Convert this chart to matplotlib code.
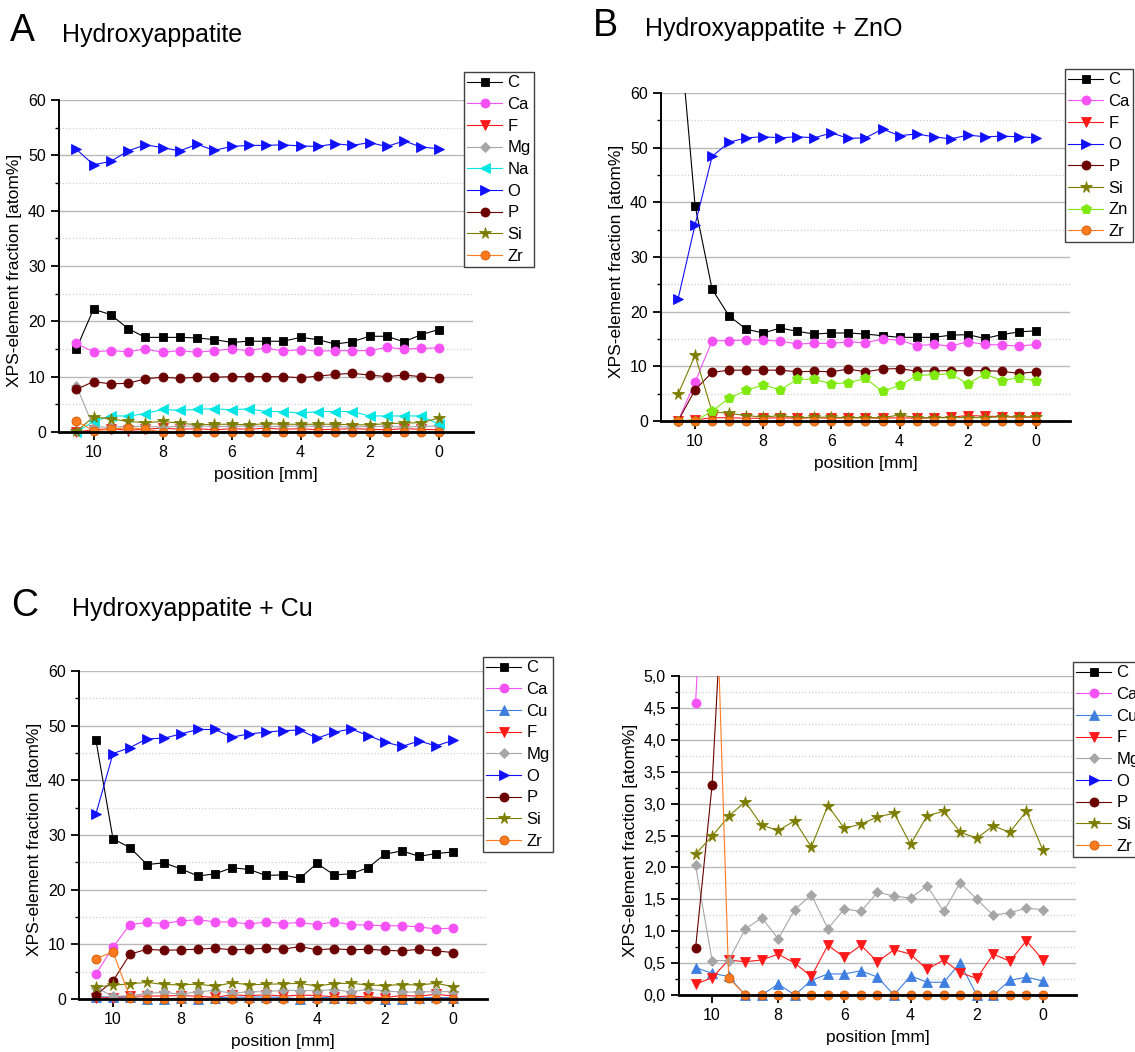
import numpy as np
import matplotlib
matplotlib.use('Agg')
from matplotlib import pyplot as plt
from matplotlib.ticker import MultipleLocator, FuncFormatter

plt.rcParams['font.family'] = ['Liberation Sans', 'DejaVu Sans']

W, H = 1135, 1052

# measurement positions [mm]
pos = [10.5, 10, 9.5, 9, 8.5, 8, 7.5, 7, 6.5, 6, 5.5, 5, 4.5, 4, 3.5, 3, 2.5, 2, 1.5, 1, 0.5, 0]

# A: Hydroxyappatite
a_C = [15.0, 22.2, 21.2, 18.7, 17.1, 17.1, 17.1, 17.0, 16.7, 16.2, 16.4, 16.4, 16.4, 17.1, 16.7, 15.9, 16.3, 17.3, 17.3, 16.3, 17.6, 18.5]
a_Ca = [16.0, 14.5, 14.7, 14.5, 15.0, 14.4, 14.7, 14.4, 14.7, 15.0, 14.7, 15.2, 14.6, 14.9, 14.6, 14.7, 14.7, 14.7, 15.3, 15.0, 15.1, 15.2]
a_F = [0.0, 0.4, 0.6, 0.3, 0.5, 0.7, 0.5, 0.6, 0.4, 0.6, 0.5, 0.7, 0.5, 0.6, 0.4, 0.5, 0.6, 0.5, 0.4, 0.6, 0.5, 0.4]
a_Mg = [8.4, 0.9, 0.9, 1.0, 1.0, 0.9, 1.0, 1.1, 1.0, 1.0, 1.1, 1.0, 1.0, 1.1, 1.0, 1.0, 0.9, 1.0, 1.0, 0.9, 1.0, 1.1]
a_Na = [0.0, 1.9, 2.9, 2.9, 3.3, 4.1, 3.9, 4.1, 4.2, 4.0, 4.2, 3.7, 3.7, 3.4, 3.7, 3.7, 3.7, 2.9, 2.9, 2.9, 2.9, 1.4]
a_O = [51.1, 48.3, 48.9, 50.8, 51.9, 51.4, 50.8, 52.0, 50.9, 51.6, 51.8, 51.8, 51.9, 51.7, 51.6, 52.1, 51.8, 52.3, 51.6, 52.6, 51.5, 51.2]
a_P = [7.7, 9.1, 8.7, 8.8, 9.6, 9.9, 9.7, 9.9, 9.9, 10.0, 10.0, 10.0, 10.0, 9.8, 10.1, 10.4, 10.6, 10.3, 10.0, 10.3, 10.0, 9.7]
a_Si = [0.1, 2.7, 2.4, 1.9, 1.7, 1.9, 1.6, 1.3, 1.4, 1.4, 1.3, 1.5, 1.4, 1.4, 1.4, 1.4, 1.3, 1.3, 1.5, 1.6, 1.7, 2.5]
a_Zr = [2.0, 0.2, 0.5, 0.8, 0.5, 0, 0, 0, 0, 0, 0, 0, 0, 0, 0, 0, 0, 0, 0, 0, 0, 0]

# B: Hydroxyappatite + ZnO
b_C = [75.0, 39.4, 24.1, 19.2, 16.8, 16.1, 17.0, 16.4, 15.9, 16.1, 16.1, 15.9, 15.6, 15.3, 15.3, 15.3, 15.7, 15.8, 15.1, 15.8, 16.3, 16.5]
b_Ca = [0.0, 7.1, 14.7, 14.7, 14.8, 14.8, 14.6, 14.1, 14.2, 14.2, 14.5, 14.3, 15.0, 14.8, 13.8, 14.0, 13.7, 14.5, 14.0, 13.9, 13.7, 14.0]
b_F = [0.0, 0.2, 0.6, 0.6, 0.5, 0.5, 0.6, 0.5, 0.6, 0.5, 0.6, 0.6, 0.5, 0.6, 0.5, 0.6, 0.7, 1.0, 0.9, 0.8, 0.7, 0.7]
b_O = [22.3, 35.9, 48.4, 51.0, 51.8, 52.0, 51.8, 52.0, 51.8, 52.7, 51.7, 51.8, 53.4, 52.2, 52.5, 52.0, 51.6, 52.3, 52.0, 52.1, 52.0, 51.8]
b_P = [0.0, 5.7, 8.9, 9.3, 9.3, 9.3, 9.3, 9.0, 9.1, 9.0, 9.5, 9.0, 9.5, 9.6, 9.1, 9.2, 9.2, 9.2, 9.2, 9.1, 8.7, 9.0]
b_Si = [4.9, 12.0, 1.7, 1.4, 1.0, 0.7, 1.0, 0.6, 0.7, 0.7, 0.6, 0.6, 0.6, 1.1, 0.6, 0.6, 0.6, 0.6, 0.6, 0.8, 0.7, 0.8]
b_Zn = [0.0, 0.0, 1.8, 4.2, 5.6, 6.6, 5.7, 7.6, 7.6, 6.8, 7.0, 7.8, 5.4, 6.5, 8.3, 8.5, 8.6, 6.8, 8.6, 7.4, 7.9, 7.3]
b_Zr = [0, 0, 0, 0, 0, 0, 0, 0, 0, 0, 0, 0, 0, 0, 0, 0, 0, 0, 0, 0, 0, 0]

# C / D: Hydroxyappatite + Cu (D is a zoom of the same data)
c_C = [47.3, 29.3, 27.7, 24.6, 24.9, 23.8, 22.5, 22.9, 24.0, 23.7, 22.6, 22.7, 22.1, 24.8, 22.7, 22.9, 24.0, 26.5, 27.1, 26.1, 26.6, 26.9]
c_Ca = [4.57, 9.5, 13.6, 14.0, 13.8, 14.3, 14.5, 14.1, 14.1, 13.7, 14.1, 13.8, 14.0, 13.6, 14.1, 13.6, 13.5, 13.4, 13.4, 13.2, 12.8, 13.0]
c_Cu = [0.43, 0.34, 0.29, 0, 0, 0.17, 0, 0.23, 0.33, 0.33, 0.38, 0.28, 0, 0.30, 0.20, 0.20, 0.50, 0, 0, 0.23, 0.28, 0.22]
c_F = [0.17, 0.27, 0.55, 0.52, 0.55, 0.64, 0.50, 0.29, 0.78, 0.59, 0.78, 0.52, 0.71, 0.64, 0.40, 0.55, 0.35, 0.26, 0.64, 0.53, 0.85, 0.55]
c_Mg = [2.03, 0.54, 0.54, 1.03, 1.21, 0.88, 1.34, 1.57, 1.04, 1.35, 1.31, 1.61, 1.55, 1.52, 1.71, 1.31, 1.76, 1.50, 1.25, 1.29, 1.36, 1.34]
c_O = [33.9, 44.9, 46.0, 47.6, 47.7, 48.5, 49.3, 49.3, 47.9, 48.5, 48.8, 49.1, 49.2, 47.7, 48.8, 49.4, 48.2, 47.0, 46.2, 47.2, 46.3, 47.3]
c_P = [0.73, 3.29, 8.2, 9.1, 8.9, 9.0, 9.1, 9.3, 9.0, 9.1, 9.3, 9.1, 9.6, 9.0, 9.2, 9.0, 9.1, 8.9, 8.8, 9.1, 8.8, 8.5]
c_Si = [2.21, 2.49, 2.80, 3.03, 2.66, 2.58, 2.73, 2.32, 2.97, 2.61, 2.68, 2.79, 2.85, 2.36, 2.81, 2.88, 2.55, 2.46, 2.65, 2.55, 2.88, 2.27]
c_Zr = [7.4, 8.6, 0.27, 0, 0, 0, 0, 0, 0, 0, 0, 0, 0, 0, 0, 0, 0, 0, 0, 0, 0, 0]

styles = {
    'C':  dict(marker='s', color='black', ms=6),
    'Ca': dict(marker='o', color='#f552f5', ms=6.5),
    'Cu': dict(marker='^', color='#3f7fe0', ms=6.5),
    'F':  dict(marker='v', color='#ff1a1a', ms=6.5),
    'Mg': dict(marker='D', color='#a6a6a6', ms=5),
    'Na': dict(marker='<', color='#00e5e5', ms=7),
    'O':  dict(marker='>', color='#1010ff', ms=7),
    'P':  dict(marker='o', color='#6a0000', ms=6.5),
    'Si': dict(marker='*', color='#7d7d00', ms=8.5),
    'Zn': dict(marker='p', color='#80ea10', ms=7.5),
    'Zr': dict(marker='o', color='#ff7a1f', ms=6.5),
}


def make_axes(left, right, top_px, ytop, zero_px, ymin):
    scale = (zero_px - top_px) / ytop
    bottom_px = zero_px - ymin * scale
    ax = fig.add_axes([left / W, 1 - bottom_px / H, (right - left) / W, (bottom_px - top_px) / H])
    ax.set_xlim(11, -1)
    ax.set_ylim(ymin, ytop)
    return ax


def style(ax, ytop, major, minor):
    for s in ['top', 'right']:
        ax.spines[s].set_visible(False)
    ax.spines['bottom'].set_position(('data', 0))
    ax.spines['bottom'].set_linewidth(2)
    ax.spines['left'].set_linewidth(1.4)
    ax.spines['left'].set_bounds(0, ytop)
    ax.set_xticks([10, 8, 6, 4, 2, 0])
    ax.set_xticks([9, 7, 5, 3, 1], minor=True)
    ax.yaxis.set_major_locator(MultipleLocator(major))
    ax.yaxis.set_minor_locator(MultipleLocator(minor))
    ax.tick_params(which='major', direction='out', length=6, width=1.3, labelsize=11.5)
    ax.tick_params(which='minor', direction='out', length=3, width=1)
    ax.grid(axis='y', which='major', color='#b9b9b9', lw=1)
    ax.grid(axis='y', which='minor', color='#cfcfcf', ls=':', lw=0.9)
    ax.set_axisbelow(True)
    ax.set_xlabel('position [mm]', fontsize=12.5, labelpad=5)
    ax.set_ylabel('XPS-element fraction [atom%]', fontsize=12.5)


def draw(ax, series, leg_x, leg_y):
    for name, vals in series:
        st = styles[name]
        ec = '#d05a00' if name == 'Zr' else st['color']
        ax.plot(pos, vals, color=st['color'], lw=0.8, marker=st['marker'], ms=st['ms'],
                markerfacecolor=st['color'], markeredgecolor=ec, markeredgewidth=0.6, label=name)
    leg = ax.legend(loc='upper left', bbox_to_anchor=(leg_x / W, 1 - leg_y / H),
                    bbox_transform=fig.transFigure, fontsize=12, frameon=True, fancybox=False,
                    edgecolor='#404040', framealpha=1, handlelength=2.1, handletextpad=0.3,
                    labelspacing=0.4, borderpad=0.2, borderaxespad=0)
    leg.get_frame().set_linewidth(1)


fig = plt.figure(figsize=(W / 100, H / 100), dpi=100)

# A
ax = make_axes(59, 473, 100, 60, 432, -1.6)
style(ax, 60, 10, 5)
draw(ax, [('C', a_C), ('Ca', a_Ca), ('F', a_F), ('Mg', a_Mg), ('Na', a_Na), ('O', a_O),
          ('P', a_P), ('Si', a_Si), ('Zr', a_Zr)], 464, 72)

# B
ax = make_axes(661, 1070, 93, 60, 421, -1.6)
style(ax, 60, 10, 5)
draw(ax, [('C', b_C), ('Ca', b_Ca), ('F', b_F), ('O', b_O), ('P', b_P), ('Si', b_Si),
          ('Zn', b_Zn), ('Zr', b_Zr)], 1065, 69)

# C
c_series = [('C', c_C), ('Ca', c_Ca), ('Cu', c_Cu), ('F', c_F), ('Mg', c_Mg), ('O', c_O),
            ('P', c_P), ('Si', c_Si), ('Zr', c_Zr)]
ax = make_axes(79, 487, 671, 60, 999, -1.6)
style(ax, 60, 10, 5)
draw(ax, c_series, 483, 657)

# D (zoom of C)
ax = make_axes(679, 1076, 676, 5.0, 995, -0.14)
style(ax, 5.0, 0.5, 0.25)
ax.yaxis.set_major_formatter(FuncFormatter(lambda v, p: f'{v:.1f}'.replace('.', ',')))
draw(ax, c_series, 1073, 662)

# panel labels and titles
fig.text(10 / W, 1 - 41 / H, 'A', fontsize=27, va='baseline')
fig.text(62 / W, 1 - 42 / H, 'Hydroxyappatite', fontsize=18, va='baseline')
fig.text(593 / W, 1 - 36 / H, 'B', fontsize=27, va='baseline')
fig.text(645 / W, 1 - 36 / H, 'Hydroxyappatite + ZnO', fontsize=18, va='baseline')
fig.text(11 / W, 1 - 616 / H, 'C', fontsize=27, va='baseline')
fig.text(72 / W, 1 - 616 / H, 'Hydroxyappatite + Cu', fontsize=18, va='baseline')

fig.savefig('out.png', dpi=100)
